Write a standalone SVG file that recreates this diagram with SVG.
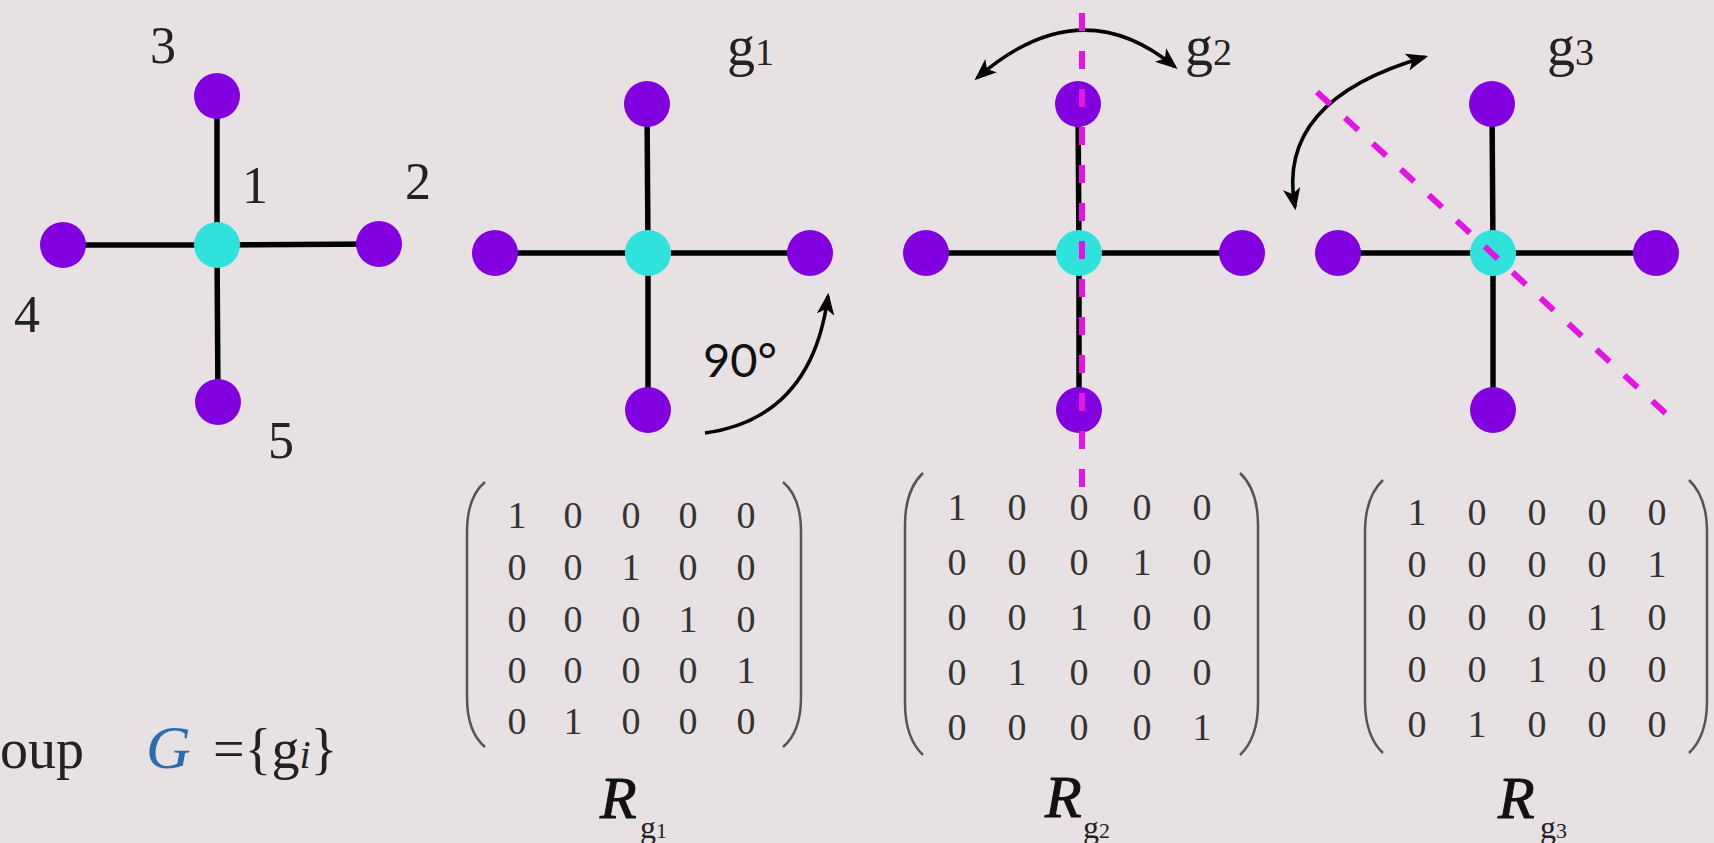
<svg xmlns="http://www.w3.org/2000/svg" width="1714" height="843" viewBox="0 0 1714 843">
<defs>
<style>
.edge{stroke:#000;stroke-width:5.5;stroke-linecap:round}
.out{fill:#8200e0}
.ctr{fill:#2fe3dc}
.lbl{font-family:"Liberation Serif",serif;font-size:52px;fill:#222}
.g{font-family:"Liberation Serif",serif;font-size:56px;fill:#222}
.gs{font-size:38px}
.mx{font-family:"Liberation Serif",serif;font-size:38px;fill:#333;text-anchor:middle}
.par{fill:none;stroke:#555;stroke-width:2.5}
.R{font-family:"Liberation Serif",serif;font-style:italic;font-size:60px;fill:#111;stroke:#111;stroke-width:1}
.Rs{font-family:"Liberation Serif",serif;font-size:32px;fill:#222}
.arc{fill:none;stroke:#000;stroke-width:3.5}
.dash{fill:none;stroke:#e414e4;stroke-width:6;stroke-dasharray:18 20}
</style>
<marker id="ah" markerUnits="userSpaceOnUse" viewBox="0 0 20 16" refX="17" refY="8" markerWidth="22" markerHeight="18" orient="auto-start-reverse">
<path d="M0,0 L20,8 L0,16 L5,8 z" fill="#000"/>
</marker>
</defs>
<rect width="1714" height="843" fill="#e8e1e4"/>

<g id="graph0">
<g id="connectors0">
<line class="edge" x1="217" y1="245" x2="217" y2="96"/>
<line class="edge" x1="217" y1="245" x2="63" y2="245"/>
<line class="edge" x1="217" y1="245" x2="379" y2="244"/>
<line class="edge" x1="217" y1="245" x2="218" y2="402"/>
</g>
<g id="n0-1"><circle class="ctr" cx="217" cy="245" r="23"/><text class="lbl" x="242" y="203">1</text></g>
<g id="n0-2"><circle class="out" cx="379" cy="244" r="23"/><text class="lbl" x="405" y="199">2</text></g>
<g id="n0-3"><circle class="out" cx="217" cy="96" r="23"/><text class="lbl" x="150" y="63">3</text></g>
<g id="n0-4"><circle class="out" cx="63" cy="245" r="23"/><text class="lbl" x="14" y="332">4</text></g>
<g id="n0-5"><circle class="out" cx="218" cy="402" r="23"/><text class="lbl" x="268" y="458">5</text></g>
</g>

<g id="graph1">
<g id="connectors1">
<line class="edge" x1="648" y1="253" x2="647" y2="104"/>
<line class="edge" x1="648" y1="253" x2="495" y2="253"/>
<line class="edge" x1="648" y1="253" x2="810" y2="253"/>
<line class="edge" x1="648" y1="253" x2="648" y2="410"/>
<path class="arc" d="M705,433 Q812,418 828,296" marker-end="url(#ah)"/>
</g>
<g id="n1-c"><circle class="ctr" cx="648" cy="253" r="23"/></g>
<g id="n1-t"><circle class="out" cx="647" cy="104" r="23"/></g>
<g id="n1-l"><circle class="out" cx="495" cy="253" r="23"/></g>
<g id="n1-r"><circle class="out" cx="810" cy="253" r="23"/></g>
<g id="n1-b"><circle class="out" cx="648" cy="410" r="23"/></g>
<text class="g" x="727" y="65">g<tspan class="gs">1</tspan></text>
<text x="703" y="377" font-family="Lato, 'Open Sans', sans-serif" font-size="47" fill="#111">90°</text>
</g>

<g id="graph2">
<g id="connectors2">
<line class="edge" x1="1079" y1="253" x2="1078" y2="104"/>
<line class="edge" x1="1079" y1="253" x2="926" y2="253"/>
<line class="edge" x1="1079" y1="253" x2="1242" y2="253"/>
<line class="edge" x1="1079" y1="253" x2="1079" y2="410"/>
<path class="arc" d="M977,78 Q1080,-12 1175,67" marker-start="url(#ah)" marker-end="url(#ah)"/>
</g>
<g id="n2-c"><circle class="ctr" cx="1079" cy="253" r="23"/></g>
<g id="n2-t"><circle class="out" cx="1078" cy="104" r="23"/></g>
<g id="n2-l"><circle class="out" cx="926" cy="253" r="23"/></g>
<g id="n2-r"><circle class="out" cx="1242" cy="253" r="23"/></g>
<g id="n2-b"><circle class="out" cx="1079" cy="410" r="23"/></g>
<line class="dash" x1="1082" y1="13" x2="1082" y2="497"/>
<text class="g" x="1185" y="65">g<tspan class="gs">2</tspan></text>
</g>

<g id="graph3">
<g id="connectors3">
<line class="edge" x1="1493" y1="253" x2="1492" y2="104"/>
<line class="edge" x1="1493" y1="253" x2="1338" y2="253"/>
<line class="edge" x1="1493" y1="253" x2="1656" y2="253"/>
<line class="edge" x1="1493" y1="253" x2="1493" y2="410"/>
<path class="arc" d="M1425,57 Q1275,100 1295,207" marker-start="url(#ah)" marker-end="url(#ah)"/>
</g>
<g id="n3-c"><circle class="ctr" cx="1493" cy="253" r="23"/></g>
<g id="n3-t"><circle class="out" cx="1492" cy="104" r="23"/></g>
<g id="n3-l"><circle class="out" cx="1338" cy="253" r="23"/></g>
<g id="n3-r"><circle class="out" cx="1656" cy="253" r="23"/></g>
<g id="n3-b"><circle class="out" cx="1493" cy="410" r="23"/></g>
<line class="dash" x1="1317" y1="92" x2="1675" y2="422"/>
<text class="g" x="1547" y="65">g<tspan class="gs">3</tspan></text>
</g>

<g id="matrix1">
<path class="par" d="M485,482 Q467,497 467,532 L467,697 Q467,732 485,747"/>
<path class="par" d="M783,482 Q801,497 801,532 L801,697 Q801,732 783,747"/>
<g class="mx">
<text x="517" y="528">1</text><text x="573" y="528">0</text><text x="631" y="528">0</text><text x="688" y="528">0</text><text x="746" y="528">0</text>
<text x="517" y="580">0</text><text x="573" y="580">0</text><text x="631" y="580">1</text><text x="688" y="580">0</text><text x="746" y="580">0</text>
<text x="517" y="632">0</text><text x="573" y="632">0</text><text x="631" y="632">0</text><text x="688" y="632">1</text><text x="746" y="632">0</text>
<text x="517" y="683">0</text><text x="573" y="683">0</text><text x="631" y="683">0</text><text x="688" y="683">0</text><text x="746" y="683">1</text>
<text x="517" y="734">0</text><text x="573" y="734">1</text><text x="631" y="734">0</text><text x="688" y="734">0</text><text x="746" y="734">0</text>
</g>
<text class="R" x="600" y="818">R</text>
<text class="Rs" x="640" y="838">g<tspan font-size="22">1</tspan></text>
</g>

<g id="matrix2">
<path class="par" d="M923,473 Q905,490 905,525 L905,703 Q905,738 923,755"/>
<path class="par" d="M1240,473 Q1258,490 1258,525 L1258,703 Q1258,738 1240,755"/>
<g class="mx">
<text x="957" y="520">1</text><text x="1017" y="520">0</text><text x="1079" y="520">0</text><text x="1142" y="520">0</text><text x="1202" y="520">0</text>
<text x="957" y="575">0</text><text x="1017" y="575">0</text><text x="1079" y="575">0</text><text x="1142" y="575">1</text><text x="1202" y="575">0</text>
<text x="957" y="630">0</text><text x="1017" y="630">0</text><text x="1079" y="630">1</text><text x="1142" y="630">0</text><text x="1202" y="630">0</text>
<text x="957" y="685">0</text><text x="1017" y="685">1</text><text x="1079" y="685">0</text><text x="1142" y="685">0</text><text x="1202" y="685">0</text>
<text x="957" y="740">0</text><text x="1017" y="740">0</text><text x="1079" y="740">0</text><text x="1142" y="740">0</text><text x="1202" y="740">1</text>
</g>
<text class="R" x="1045" y="817">R</text>
<text class="Rs" x="1083" y="838">g<tspan font-size="22">2</tspan></text>
</g>

<g id="matrix3">
<path class="par" d="M1383,480 Q1365,497 1365,532 L1365,701 Q1365,736 1383,753"/>
<path class="par" d="M1689,480 Q1707,497 1707,532 L1707,701 Q1707,736 1689,753"/>
<g class="mx">
<text x="1417" y="525">1</text><text x="1477" y="525">0</text><text x="1537" y="525">0</text><text x="1597" y="525">0</text><text x="1657" y="525">0</text>
<text x="1417" y="577">0</text><text x="1477" y="577">0</text><text x="1537" y="577">0</text><text x="1597" y="577">0</text><text x="1657" y="577">1</text>
<text x="1417" y="630">0</text><text x="1477" y="630">0</text><text x="1537" y="630">0</text><text x="1597" y="630">1</text><text x="1657" y="630">0</text>
<text x="1417" y="682">0</text><text x="1477" y="682">0</text><text x="1537" y="682">1</text><text x="1597" y="682">0</text><text x="1657" y="682">0</text>
<text x="1417" y="737">0</text><text x="1477" y="737">1</text><text x="1537" y="737">0</text><text x="1597" y="737">0</text><text x="1657" y="737">0</text>
</g>
<text class="R" x="1498" y="818">R</text>
<text class="Rs" x="1540" y="838">g<tspan font-size="22">3</tspan></text>
</g>

<g id="caption" font-family="'Liberation Serif',serif" font-size="56" fill="#222">
<text x="0" y="768">oup</text>
<text x="146" y="768" font-style="italic" fill="#2b6cae" font-size="62">G</text>
<text x="213" y="768">={g<tspan font-style="italic" font-size="40">i</tspan>}</text>
</g>
</svg>
